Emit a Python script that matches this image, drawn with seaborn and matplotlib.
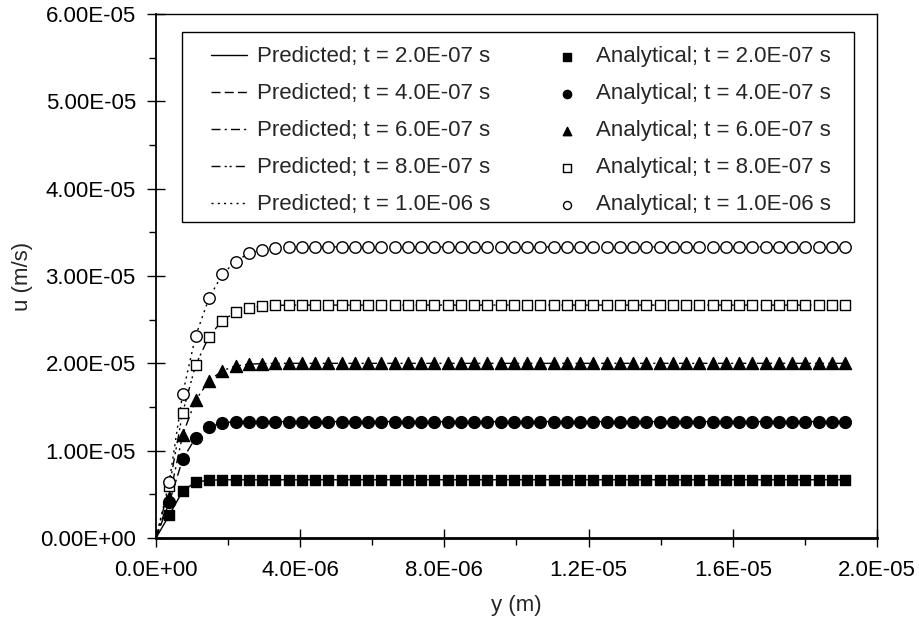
import numpy as np
import pandas as pd
import seaborn as sns
import matplotlib
matplotlib.use("Agg")
import matplotlib.pyplot as plt
from matplotlib.ticker import MultipleLocator, FuncFormatter
from matplotlib.patches import Rectangle

# ---------------- data (y in micrometres, u in 1e-6 m/s) ----------------
y_um = [0.00, 0.37, 0.74, 1.10, 1.47, 1.84, 2.21, 2.57, 2.94, 3.31, 3.68, 4.04,
        4.41, 4.78, 5.15, 5.51, 5.88, 6.25, 6.62, 6.98, 7.35, 7.72, 8.09, 8.45,
        8.82, 9.19, 9.56, 9.92, 10.29, 10.66, 11.03, 11.39, 11.76, 12.13, 12.50, 12.86,
        13.23, 13.60, 13.97, 14.33, 14.70, 15.07, 15.44, 15.80, 16.17, 16.54, 16.91, 17.27,
        17.64, 18.01, 18.38, 18.74, 19.11]

u_t2e7 = [0.00, 2.63, 5.38, 6.40, 6.62, 6.67, 6.67, 6.67, 6.67, 6.67, 6.67, 6.67,
          6.67, 6.67, 6.67, 6.67, 6.67, 6.67, 6.67, 6.67, 6.67, 6.67, 6.67, 6.67,
          6.67, 6.67, 6.67, 6.67, 6.67, 6.67, 6.67, 6.67, 6.67, 6.67, 6.67, 6.67,
          6.67, 6.67, 6.67, 6.67, 6.67, 6.67, 6.67, 6.67, 6.67, 6.67, 6.67, 6.67,
          6.67, 6.67, 6.67, 6.67, 6.67]
u_t4e7 = [0.00, 4.10, 9.00, 11.50, 12.70, 13.20, 13.31, 13.33, 13.33, 13.33, 13.33, 13.33,
          13.33, 13.33, 13.33, 13.33, 13.33, 13.33, 13.33, 13.33, 13.33, 13.33, 13.33, 13.33,
          13.33, 13.33, 13.33, 13.33, 13.33, 13.33, 13.33, 13.33, 13.33, 13.33, 13.33, 13.33,
          13.33, 13.33, 13.33, 13.33, 13.33, 13.33, 13.33, 13.33, 13.33, 13.33, 13.33, 13.33,
          13.33, 13.33, 13.33, 13.33, 13.33]
u_t6e7 = [0.00, 4.60, 11.80, 15.80, 18.00, 19.16, 19.70, 19.90, 19.97, 20.00, 20.00, 20.00,
          20.00, 20.00, 20.00, 20.00, 20.00, 20.00, 20.00, 20.00, 20.00, 20.00, 20.00, 20.00,
          20.00, 20.00, 20.00, 20.00, 20.00, 20.00, 20.00, 20.00, 20.00, 20.00, 20.00, 20.00,
          20.00, 20.00, 20.00, 20.00, 20.00, 20.00, 20.00, 20.00, 20.00, 20.00, 20.00, 20.00,
          20.00, 20.00, 20.00, 20.00, 20.00]
u_t8e7 = [0.00, 5.90, 14.35, 19.80, 23.06, 24.90, 25.85, 26.30, 26.57, 26.64, 26.67, 26.67,
          26.67, 26.67, 26.67, 26.67, 26.67, 26.67, 26.67, 26.67, 26.67, 26.67, 26.67, 26.67,
          26.67, 26.67, 26.67, 26.67, 26.67, 26.67, 26.67, 26.67, 26.67, 26.67, 26.67, 26.67,
          26.67, 26.67, 26.67, 26.67, 26.67, 26.67, 26.67, 26.67, 26.67, 26.67, 26.67, 26.67,
          26.67, 26.67, 26.67, 26.67, 26.67]
u_t1e6 = [0.00, 6.45, 16.50, 23.14, 27.45, 30.20, 31.65, 32.60, 33.00, 33.25, 33.31, 33.33,
          33.33, 33.33, 33.33, 33.33, 33.33, 33.33, 33.33, 33.33, 33.33, 33.33, 33.33, 33.33,
          33.33, 33.33, 33.33, 33.33, 33.33, 33.33, 33.33, 33.33, 33.33, 33.33, 33.33, 33.33,
          33.33, 33.33, 33.33, 33.33, 33.33, 33.33, 33.33, 33.33, 33.33, 33.33, 33.33, 33.33,
          33.33, 33.33, 33.33, 33.33, 33.33]

times = ["2.0E-07", "4.0E-07", "6.0E-07", "8.0E-07", "1.0E-06"]
series = [u_t2e7, u_t4e7, u_t6e7, u_t8e7, u_t1e6]

# ---------------- styles ----------------
dashes = [None, (6.5, 3), (6.5, 3, 1.5, 3), (6.5, 3, 1.5, 2, 1.5, 3), (1.5, 3)]
markers = ["s", "o", "^", "s", "o"]
mfaces = ["black", "black", "black", "white", "white"]
msizes = [62, 72, 75, 58, 68]

sns.set_style("ticks")
plt.rcParams["font.family"] = ["Liberation Sans", "DejaVu Sans"]
plt.rcParams["lines.scale_dashes"] = False

fig = plt.figure(figsize=(9.19, 6.22), dpi=100)
ax = fig.add_axes([0.1697, 0.1350, 0.7846, 0.8425])

y_m = np.array(y_um) * 1e-6
pred_handles, ana_handles = [], []
for i, (t, u) in enumerate(zip(times, series)):
    u_ms = np.array(u) * 1e-6
    df = pd.DataFrame({"y": y_m, "u": u_ms})
    sns.lineplot(data=df, x="y", y="u", ax=ax, color="black", linewidth=1.0)
    ln = ax.lines[-1]
    if dashes[i] is None:
        ln.set_linestyle("-")
    else:
        ln.set_dashes(dashes[i])
    ln.set_label(f"Predicted; t = {t} s")
    pred_handles.append(ln)

for i, (t, u) in enumerate(zip(times, series)):
    u_ms = np.array(u) * 1e-6
    df = pd.DataFrame({"y": y_m[1:], "u": u_ms[1:]})
    sns.scatterplot(data=df, x="y", y="u", ax=ax, marker=markers[i], s=msizes[i],
                    facecolor=mfaces[i], edgecolor="black", linewidth=1.0, zorder=3)
    col = ax.collections[-1]
    col.set_label(f"Analytical; t = {t} s")
    ana_handles.append(col)

ax.set_xlim(0, 2.0e-5)
ax.set_ylim(0, 6.0e-5)
ax.xaxis.set_major_locator(MultipleLocator(4e-6))
ax.xaxis.set_minor_locator(MultipleLocator(2e-6))
ax.yaxis.set_major_locator(MultipleLocator(1e-5))
ax.yaxis.set_minor_locator(MultipleLocator(0.5e-5))
ax.xaxis.set_major_formatter(FuncFormatter(lambda v, p: f"{v:.1E}"))
ax.yaxis.set_major_formatter(FuncFormatter(lambda v, p: f"{v:.2E}"))

ax.tick_params(which="major", direction="inout", length=13, width=1.0,
               labelsize=16, color="black", labelcolor="black")
ax.tick_params(axis="y", which="major", pad=8)
ax.tick_params(axis="x", which="major", pad=9)
ax.tick_params(which="minor", direction="out", length=5, width=1.0, color="black")

for side in ["top", "right", "left"]:
    ax.spines[side].set_visible(True)
    ax.spines[side].set_linewidth(1.0)
    ax.spines[side].set_color("black")
ax.spines["bottom"].set_linewidth(2.0)
ax.spines["bottom"].set_color("black")
ax.spines["left"].set_linewidth(1.3)

ax.set_xlabel("y (m)", fontsize=16, va="top")
ax.set_ylabel("u (m/s)", fontsize=16)
ax.xaxis.set_label_coords(0.5, -0.108)
ax.yaxis.set_label_coords(-0.170, 0.5)

handles = pred_handles + ana_handles
labels = [h.get_label() for h in handles]
leg = ax.legend(handles, labels, ncol=2, loc="upper left",
                bbox_to_anchor=(0.0759, 0.938), fontsize=16, frameon=False,
                handlelength=1.65, handletextpad=0.45, columnspacing=2.63,
                labelspacing=0.72, borderpad=0.0, borderaxespad=0.0,
                markerscale=0.7)

# legend frame drawn as a rectangle in axes coordinates
ax.add_patch(Rectangle((0.0356, 0.6025), 0.968 - 0.0356, 0.9651 - 0.6025,
                       transform=ax.transAxes, facecolor="white",
                       edgecolor="black", linewidth=1.0, zorder=4))
leg.set_zorder(5)

fig.savefig("out.png", dpi=100)
